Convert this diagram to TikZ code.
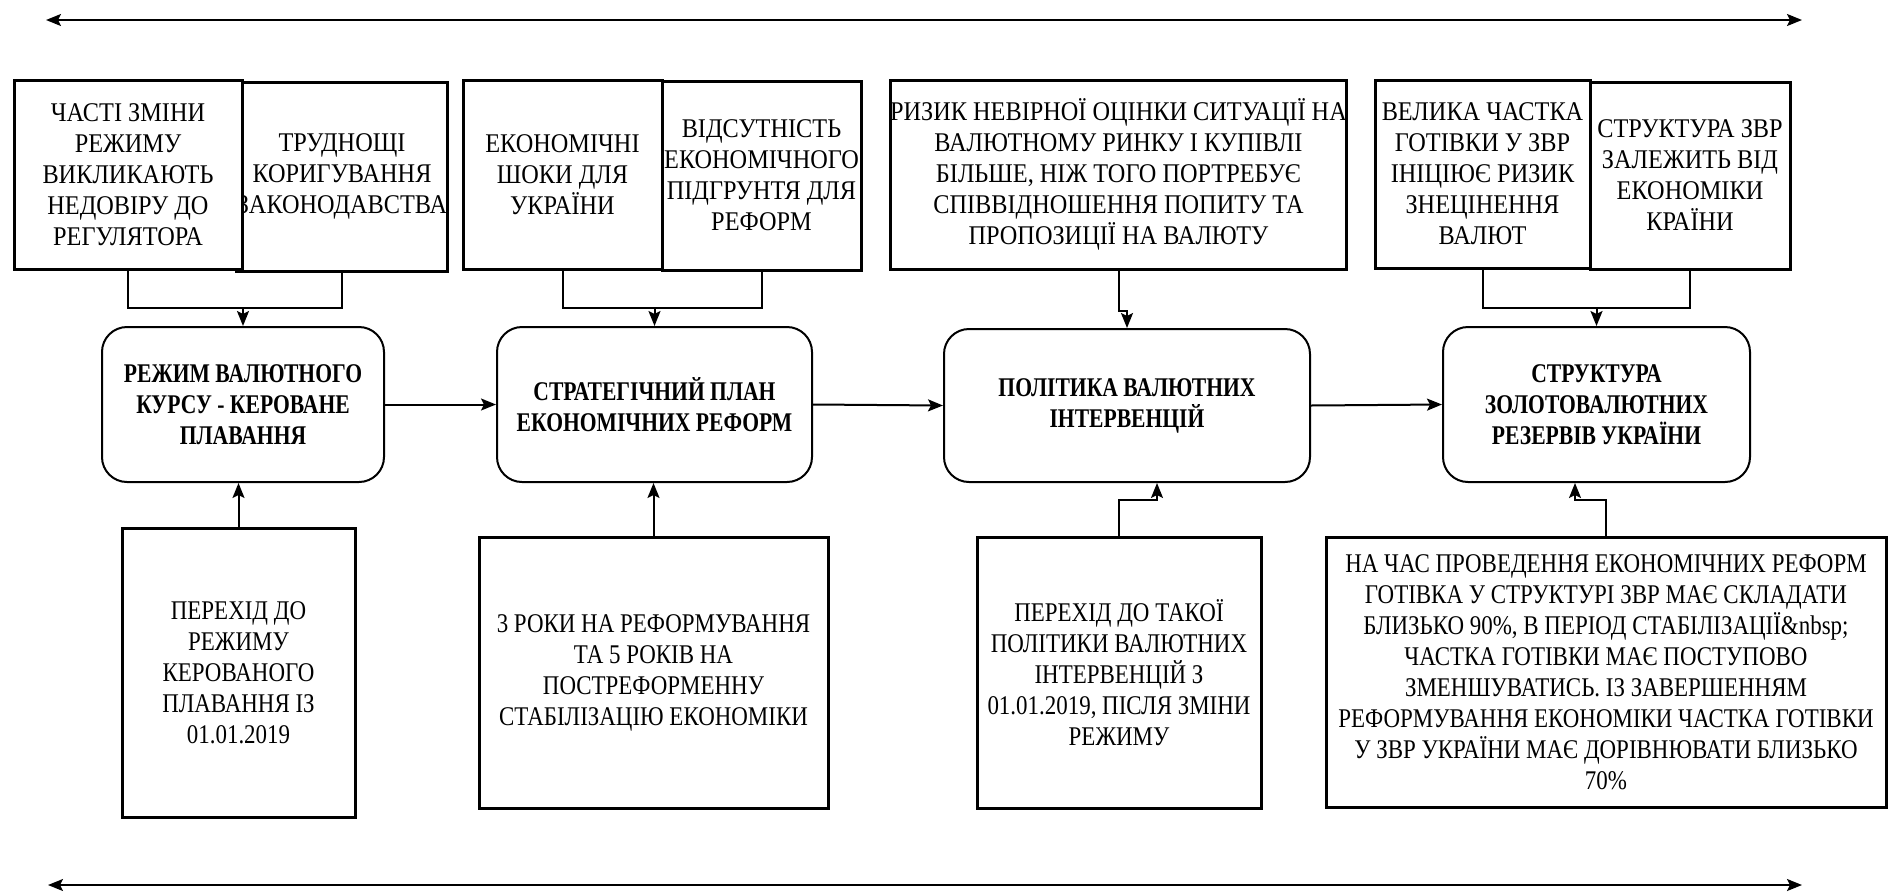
\documentclass[tikz,border=0pt]{standalone}
\usepackage{fontspec}
\setmainfont{Liberation Serif}[FakeStretch=0.85]
\newfontfamily\topcond{Liberation Serif}[FakeStretch=0.9]
\newfontfamily\boldcond{Liberation Serif}[FakeStretch=0.8]
\usetikzlibrary{arrows.meta}
\begin{document}
\begin{tikzpicture}[x=1pt,y=-1pt,
  txt/.style={font=\fontsize{27}{31}\selectfont},
  sqbox/.style={txt, draw, line width=3pt, inner sep=0pt, align=center},
  topbox/.style={sqbox, font=\fontsize{27}{31}\selectfont\topcond},
  mainbox/.style={draw, line width=2pt, rounded corners=25pt, inner sep=0pt, align=center, font=\fontsize{27}{31}\selectfont\boldcond\bfseries},
  conn/.style={line width=2pt},
  arr/.style={line width=2pt, -{Stealth[length=15pt,width=12pt,inset=3pt]}},
  arrboth/.style={line width=2pt, {Stealth[length=15pt,width=12pt,inset=3pt]}-{Stealth[length=15pt,width=12pt,inset=3pt]}},
]
\useasboundingbox[fill=white] (0,0) rectangle (1890,895);

% top and bottom timeline arrows
\coordinate (tl) at (46,20);
\coordinate (tr) at (1802,20);
\coordinate (bl) at (48,885);
\coordinate (br) at (1802,885);
\draw[arrboth] (tl) -- (tr);
\draw[arrboth] (bl) -- (br);

% top row boxes
\node[topbox, minimum width=200pt, minimum height=189pt] (a2) at (342,176.5) {ТРУДНОЩІ\\КОРИГУВАННЯ\\ЗАКОНОДАВСТВА};
\node[topbox, fill=white, minimum width=228pt, minimum height=189pt] (a1) at (128,174.5) {ЧАСТІ ЗМІНИ\\РЕЖИМУ\\ВИКЛИКАЮТЬ\\НЕДОВІРУ ДО\\РЕГУЛЯТОРА};
\node[topbox, minimum width=199pt, minimum height=189pt] (b1) at (562.5,174.5) {ЕКОНОМІЧНІ\\ШОКИ ДЛЯ\\УКРАЇНИ};
\node[topbox, minimum width=199pt, minimum height=189pt] (b2) at (761.5,175.5) {ВІДСУТНІСТЬ\\ЕКОНОМІЧНОГО\\ПІДГРУНТЯ ДЛЯ\\РЕФОРМ};
\node[topbox, minimum width=449pt, minimum height=189pt] (c) at (1118.5,174.5) {РИЗИК НЕВІРНОЇ ОЦІНКИ СИТУАЦІЇ НА\\ВАЛЮТНОМУ РИНКУ І КУПІВЛІ\\БІЛЬШЕ, НІЖ ТОГО ПОРТРЕБУЄ\\СПІВВІДНОШЕННЯ ПОПИТУ ТА\\ПРОПОЗИЦІЇ НА ВАЛЮТУ};
\node[topbox, minimum width=215pt, minimum height=188pt] (d1) at (1482.5,174) {ВЕЛИКА ЧАСТКА\\ГОТІВКИ У ЗВР\\ІНІЦІЮЄ РИЗИК\\ЗНЕЦІНЕННЯ\\ВАЛЮТ};
\node[topbox, minimum width=200pt, minimum height=187pt] (d2) at (1690,175.5) {СТРУКТУРА ЗВР\\ЗАЛЕЖИТЬ ВІД\\ЕКОНОМІКИ\\КРАЇНИ};

% main row
\node[mainbox, minimum width=282pt, minimum height=155pt] (m1) at (243,404.5) {РЕЖИМ ВАЛЮТНОГО\\КУРСУ - КЕРОВАНЕ\\ПЛАВАННЯ};
\node[mainbox, minimum width=315pt, minimum height=155pt] (m2) at (654.5,404.5) {СТРАТЕГІЧНИЙ ПЛАН\\ЕКОНОМІЧНИХ РЕФОРМ};
\node[mainbox, minimum width=366pt, minimum height=153pt] (m3) at (1127,405.5) {ПОЛІТИКА ВАЛЮТНИХ\\ІНТЕРВЕНЦІЙ};
\node[mainbox, minimum width=307pt, minimum height=155pt] (m4) at (1596.5,404.5) {СТРУКТУРА\\ЗОЛОТОВАЛЮТНИХ\\РЕЗЕРВІВ УКРАЇНИ};

% bottom row boxes
\node[sqbox, minimum width=233pt, minimum height=289pt] (e1) at (238.5,672.5) {ПЕРЕХІД ДО\\РЕЖИМУ\\КЕРОВАНОГО\\ПЛАВАННЯ ІЗ\\01.01.2019};
\node[sqbox, minimum width=349pt, minimum height=271pt] (e2) at (653.5,672.5) {3 РОКИ НА РЕФОРМУВАННЯ\\ТА 5 РОКІВ НА\\ПОСТРЕФОРМЕННУ\\СТАБІЛІЗАЦІЮ ЕКОНОМІКИ};
\node[sqbox, minimum width=284pt, minimum height=271pt] (e3) at (1119,672.5) {ПЕРЕХІД ДО ТАКОЇ\\ПОЛІТИКИ ВАЛЮТНИХ\\ІНТЕРВЕНЦІЙ З\\01.01.2019, ПІСЛЯ ЗМІНИ\\РЕЖИМУ};
\node[sqbox, minimum width=560pt, minimum height=270pt] (e4) at (1606,672) {НА ЧАС ПРОВЕДЕННЯ ЕКОНОМІЧНИХ РЕФОРМ\\ГОТІВКА У СТРУКТУРІ ЗВР МАЄ СКЛАДАТИ\\БЛИЗЬКО 90\%, В ПЕРІОД СТАБІЛІЗАЦІЇ\&nbsp;\\ЧАСТКА ГОТІВКИ МАЄ ПОСТУПОВО\\ЗМЕНШУВАТИСЬ. ІЗ ЗАВЕРШЕННЯМ\\РЕФОРМУВАННЯ ЕКОНОМІКИ ЧАСТКА ГОТІВКИ\\У ЗВР УКРАЇНИ МАЄ ДОРІВНЮВАТИ БЛИЗЬКО\\70\%};

% top connectors
\coordinate (jA) at (243,308);
\draw[conn] (a1.south) |- (jA) -| (a2.south);
\draw[arr] (jA) -- (m1.north);
\coordinate (jB) at (654.5,308);
\draw[conn] (b1.south) |- (jB) -| (b2.south);
\draw[arr] (jB) -- (m2.north);
\coordinate (jC) at (1127,311);
\draw[arr] (c.south) |- (jC) -- (m3.north);
\coordinate (jD) at (1596.5,308);
\draw[conn] (d1.south) |- (jD) -| (d2.south);
\draw[arr] (jD) -- (m4.north);

% main row arrows
\draw[arr] (m1.east) -- (m2.west);
\draw[arr] (m2.east) -- (m3.west);
\draw[arr] (m3.east) -- (m4.west);

% bottom connectors
\draw[arr] (e1.north) -- (e1.north |- m1.south);
\draw[arr] (e2.north) -- (e2.north |- m2.south);
\coordinate (kE3) at (1157,500);
\draw[arr] (e3.north) |- (kE3) -- (kE3 |- m3.south);
\coordinate (kE4) at (1575,500);
\draw[arr] (e4.north) |- (kE4) -- (kE4 |- m4.south);
\end{tikzpicture}
\end{document}
